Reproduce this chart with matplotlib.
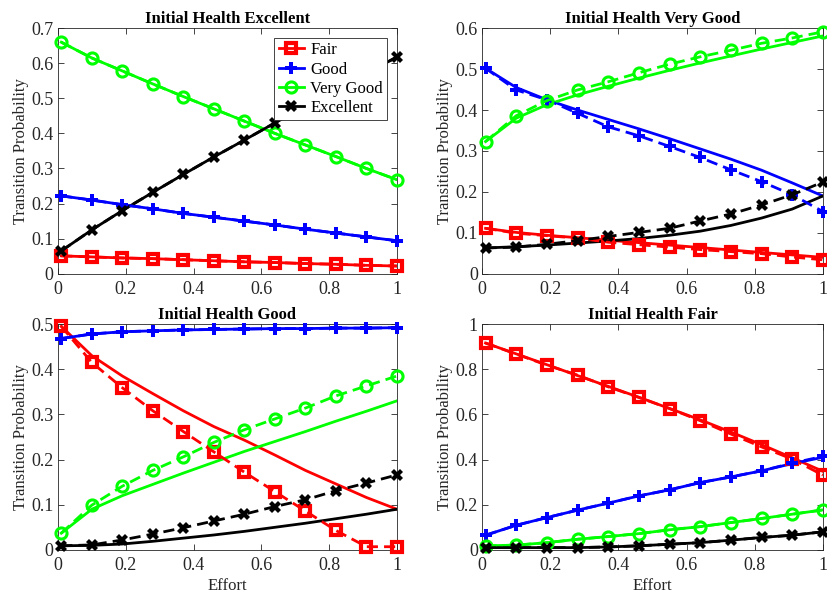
import matplotlib
matplotlib.use("Agg")
import matplotlib.pyplot as plt
from matplotlib.lines import Line2D
from matplotlib.ticker import FuncFormatter

plt.rcParams['font.family'] = ['Liberation Serif', 'DejaVu Serif']
plt.rcParams['mathtext.fontset'] = 'stix'

# effort grid used for every curve
effort = [0.01, 0.10, 0.19, 0.28, 0.37, 0.46, 0.55, 0.64, 0.73, 0.82, 0.91, 1.00]

states = ["Fair", "Good", "Very Good", "Excellent"]
colors = ["#ff0000", "#0000ff", "#00ff00", "#000000"]
markers = ["s", "P", "o", "X"]

# --- Initial health: Excellent ---
exc_data = {
    "Fair":      [0.051, 0.048, 0.045, 0.043, 0.040, 0.037, 0.034, 0.032, 0.029, 0.027, 0.024, 0.022],
    "Good":      [0.222, 0.210, 0.197, 0.185, 0.172, 0.161, 0.150, 0.139, 0.127, 0.116, 0.105, 0.094],
    "Very Good": [0.660, 0.615, 0.578, 0.541, 0.505, 0.470, 0.435, 0.400, 0.367, 0.334, 0.300, 0.268],
    "Excellent": [0.065, 0.125, 0.180, 0.232, 0.283, 0.333, 0.381, 0.430, 0.477, 0.524, 0.571, 0.618],
}
exc_model = {
    "Fair":      [0.051, 0.048, 0.045, 0.043, 0.040, 0.037, 0.034, 0.032, 0.029, 0.027, 0.024, 0.022],
    "Good":      [0.222, 0.210, 0.197, 0.185, 0.172, 0.161, 0.150, 0.139, 0.127, 0.116, 0.105, 0.094],
    "Very Good": [0.660, 0.615, 0.578, 0.541, 0.505, 0.470, 0.435, 0.400, 0.367, 0.334, 0.300, 0.268],
    "Excellent": [0.065, 0.125, 0.180, 0.232, 0.283, 0.333, 0.381, 0.430, 0.477, 0.524, 0.571, 0.618],
}

# --- Initial health: Very Good ---
vg_data = {
    "Fair":      [0.111, 0.099, 0.093, 0.087, 0.077, 0.071, 0.065, 0.059, 0.054, 0.049, 0.041, 0.034],
    "Good":      [0.502, 0.449, 0.425, 0.392, 0.359, 0.337, 0.311, 0.284, 0.254, 0.225, 0.193, 0.152],
    "Very Good": [0.323, 0.386, 0.423, 0.449, 0.469, 0.491, 0.512, 0.530, 0.546, 0.563, 0.576, 0.591],
    "Excellent": [0.063, 0.065, 0.072, 0.081, 0.091, 0.101, 0.111, 0.129, 0.146, 0.168, 0.193, 0.224],
}
vg_model = {
    "Fair":      [0.111, 0.101, 0.094, 0.088, 0.082, 0.076, 0.070, 0.064, 0.058, 0.052, 0.046, 0.040],
    "Good":      [0.502, 0.455, 0.425, 0.400, 0.377, 0.354, 0.330, 0.305, 0.280, 0.253, 0.222, 0.190],
    "Very Good": [0.323, 0.380, 0.413, 0.437, 0.458, 0.478, 0.497, 0.515, 0.532, 0.549, 0.565, 0.581],
    "Excellent": [0.063, 0.066, 0.070, 0.075, 0.080, 0.086, 0.094, 0.104, 0.118, 0.136, 0.158, 0.190],
}

# --- Initial health: Good ---
good_data = {
    "Fair":      [0.495, 0.415, 0.359, 0.308, 0.262, 0.217, 0.172, 0.129, 0.086, 0.043, 0.007, 0.007],
    "Good":      [0.468, 0.478, 0.483, 0.485, 0.487, 0.488, 0.489, 0.490, 0.490, 0.491, 0.491, 0.492],
    "Very Good": [0.037, 0.099, 0.141, 0.176, 0.206, 0.238, 0.266, 0.290, 0.314, 0.341, 0.363, 0.385],
    "Excellent": [0.009, 0.011, 0.022, 0.035, 0.049, 0.064, 0.079, 0.096, 0.111, 0.131, 0.148, 0.166],
}
good_model = {
    "Fair":      [0.495, 0.430, 0.385, 0.346, 0.308, 0.273, 0.243, 0.210, 0.176, 0.146, 0.116, 0.090],
    "Good":      [0.468, 0.478, 0.483, 0.485, 0.487, 0.488, 0.489, 0.490, 0.490, 0.491, 0.491, 0.492],
    "Very Good": [0.037, 0.090, 0.120, 0.145, 0.170, 0.194, 0.218, 0.240, 0.262, 0.285, 0.307, 0.330],
    "Excellent": [0.009, 0.010, 0.013, 0.019, 0.026, 0.033, 0.041, 0.050, 0.059, 0.069, 0.079, 0.090],
}

# --- Initial health: Fair ---
fair_data = {
    "Fair":      [0.916, 0.867, 0.818, 0.774, 0.722, 0.675, 0.626, 0.572, 0.513, 0.456, 0.402, 0.331],
    "Good":      [0.065, 0.109, 0.143, 0.176, 0.207, 0.239, 0.266, 0.298, 0.323, 0.350, 0.384, 0.414],
    "Very Good": [0.018, 0.021, 0.032, 0.047, 0.059, 0.072, 0.089, 0.103, 0.121, 0.139, 0.158, 0.177],
    "Excellent": [0.010, 0.010, 0.010, 0.010, 0.013, 0.018, 0.025, 0.032, 0.043, 0.055, 0.065, 0.080],
}
fair_model = {
    "Fair":      [0.916, 0.868, 0.820, 0.772, 0.724, 0.676, 0.626, 0.576, 0.522, 0.466, 0.408, 0.348],
    "Good":      [0.065, 0.109, 0.143, 0.176, 0.207, 0.239, 0.266, 0.298, 0.323, 0.350, 0.382, 0.410],
    "Very Good": [0.018, 0.021, 0.032, 0.047, 0.059, 0.072, 0.089, 0.103, 0.121, 0.139, 0.158, 0.177],
    "Excellent": [0.010, 0.010, 0.010, 0.010, 0.013, 0.018, 0.025, 0.032, 0.043, 0.055, 0.065, 0.080],
}

panels = [
    ("Initial Health Excellent", exc_data, exc_model, 0.7, 0.1),
    ("Initial Health Very Good", vg_data, vg_model, 0.6, 0.1),
    ("Initial Health Good", good_data, good_model, 0.5, 0.1),
    ("Initial Health Fair", fair_data, fair_model, 1.0, 0.2),
]

# axes boxes [left, bottom, width, height] in figure fractions
boxes = [
    [0.070, 0.543, 0.410, 0.410],
    [0.583, 0.543, 0.412, 0.410],
    [0.070, 0.082, 0.410, 0.377],
    [0.583, 0.082, 0.412, 0.377],
]

AX_COLOR = "#262626"
marker_kw = {
    "s": dict(markersize=7, markeredgewidth=3),
    "P": dict(markersize=9, markeredgewidth=0),
    "o": dict(markersize=8, markeredgewidth=2.2),
    "X": dict(markersize=9, markeredgewidth=0),
}


def fmt(v, pos):
    return f"{v:g}"


fig = plt.figure(figsize=(8.27, 5.99), dpi=100)

for idx, (title, data, model, ymax, ystep) in enumerate(panels):
    ax = fig.add_axes(boxes[idx])
    for name, c, m in zip(states, colors, markers):
        ax.plot(effort, model[name], '-', color=c, lw=2, zorder=2)
        kw = marker_kw[m]
        face = c if m in ("P", "X") else "none"
        ax.plot(effort, data[name], '--', color=c, lw=2, dashes=(4, 2.2),
                marker=m, markerfacecolor=face, markeredgecolor=c,
                clip_on=False, zorder=3, **kw)

    ax.set_xlim(0, 1)
    ax.set_ylim(0, ymax)
    nt = int(round(ymax / ystep))
    ax.set_yticks([round(i * ystep, 2) for i in range(nt + 1)])
    ax.set_xticks([0, 0.2, 0.4, 0.6, 0.8, 1.0])
    ax.xaxis.set_major_formatter(FuncFormatter(fmt))
    ax.yaxis.set_major_formatter(FuncFormatter(fmt))
    ax.tick_params(direction='in', top=True, right=True, length=4,
                   width=0.6, colors=AX_COLOR, labelsize=13)
    ax.tick_params(axis='x', pad=5)
    ax.tick_params(axis='y', pad=3)
    for sp in ax.spines.values():
        sp.set_color(AX_COLOR)
        sp.set_linewidth(0.6)
    ax.set_title(title, fontsize=12, fontweight='bold', pad=4)
    ax.set_ylabel("Transition Probability", fontsize=12, color=AX_COLOR, labelpad=2)
    if idx >= 2:
        ax.set_xlabel("Effort", fontsize=12, color=AX_COLOR, labelpad=3)

    if idx == 0:
        handles = []
        for name, c, m in zip(states, colors, markers):
            kw = marker_kw[m]
            face = c if m in ("P", "X") else "none"
            handles.append(Line2D([], [], color=c, lw=2, marker=m,
                                  markerfacecolor=face, markeredgecolor=c, **kw))
        leg = ax.legend(handles, states, loc='upper right', fontsize=12,
                        fancybox=False, framealpha=1, edgecolor=AX_COLOR,
                        borderpad=0.25, labelspacing=0.2, handlelength=1.5,
                        handletextpad=0.4, borderaxespad=0.6)
        leg.get_frame().set_linewidth(0.6)

fig.savefig("out.png", dpi=100)
